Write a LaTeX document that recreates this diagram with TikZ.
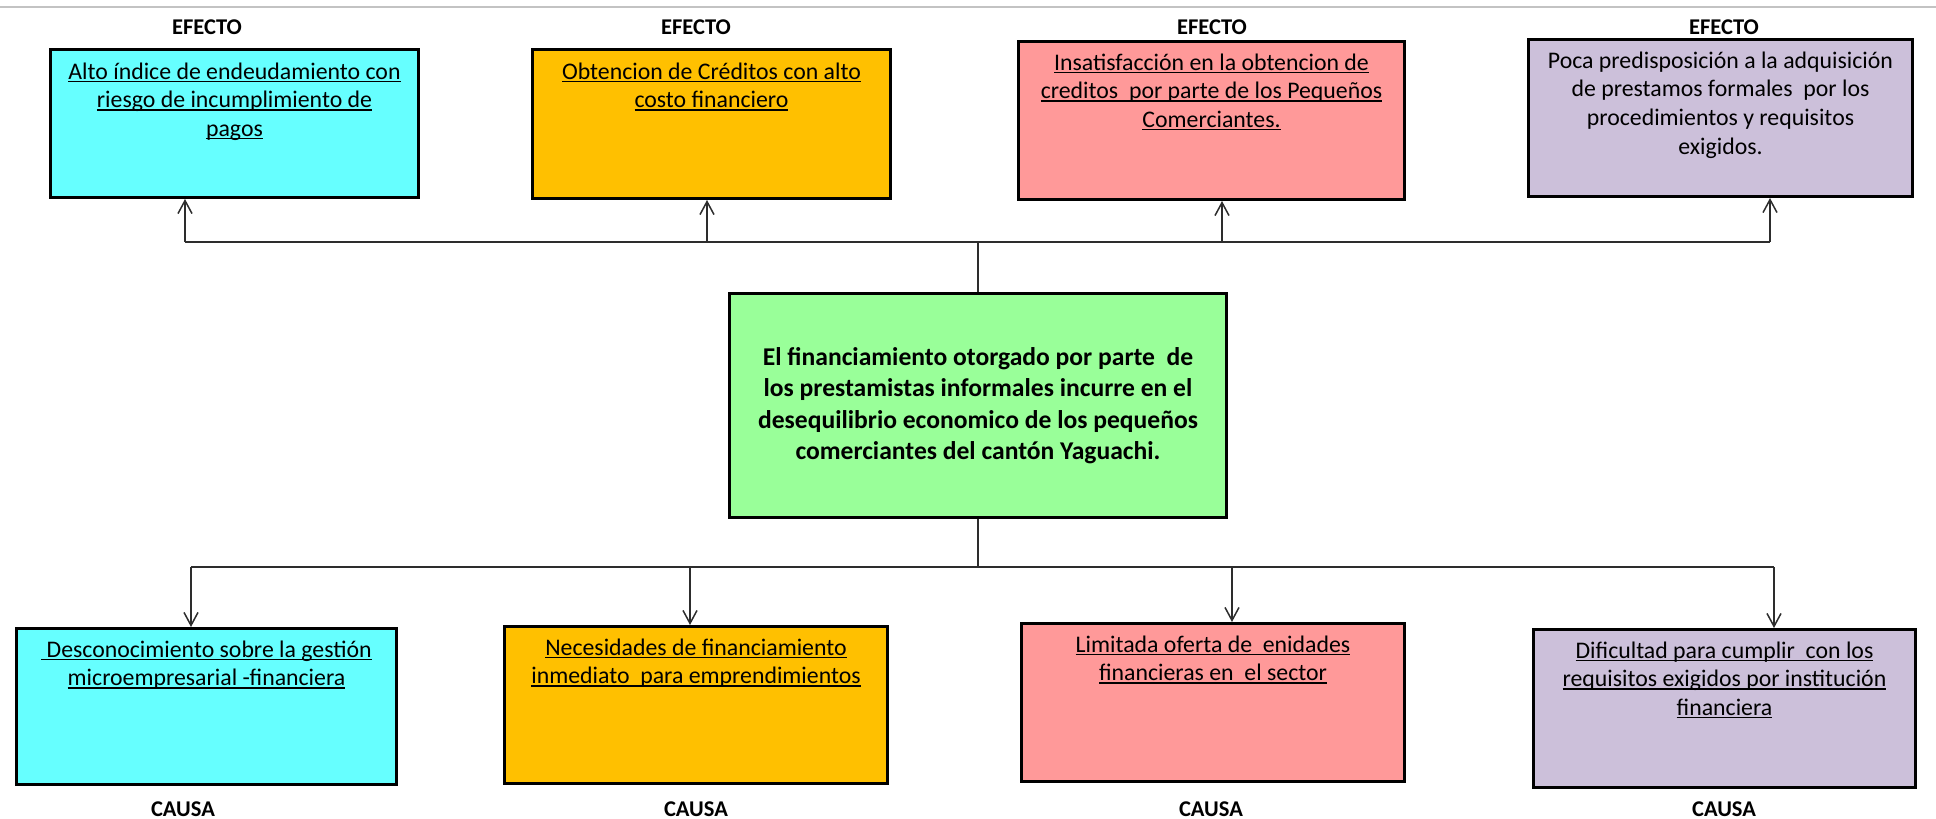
\documentclass[tikz,border=0pt]{standalone}
\usepackage{fontspec}
\setmainfont{Carlito}
\usetikzlibrary{arrows.meta,shadows}

\definecolor{cyanbox}{RGB}{102,255,255}
\definecolor{orangebox}{RGB}{255,192,0}
\definecolor{pinkbox}{RGB}{255,153,153}
\definecolor{lilacbox}{RGB}{204,192,218}
\definecolor{greenbox}{RGB}{153,255,153}
\definecolor{wire}{RGB}{45,45,45}
\definecolor{rulegray}{RGB}{195,195,195}

% underline just below the baseline, ignoring descenders
\newcommand\ulx[1]{\setbox0\hbox{#1}\rlap{\rule[-3pt]{\wd0}{1.4pt}}\box0}
% fixed-height strut so every first line starts at the same baseline
\newcommand\topstrut{\rule{0pt}{19pt}}

\tikzset{
  box/.style={draw=black, line width=3pt, anchor=north west, inner sep=0pt,
    drop shadow={shadow xshift=0.8pt, shadow yshift=-1.6pt, opacity=1, fill=black}},
  boxtext/.style={anchor=north, inner sep=0pt, align=center,
    font=\fontsize{23.8}{28.6}\selectfont},
  maintext/.style={inner sep=0pt, align=center,
    font=\bfseries\fontsize{25.6}{31.5}\selectfont},
  tag/.style={inner sep=0pt, font=\bfseries\fontsize{22.5}{26}\selectfont},
  wireline/.style={draw=wire, line width=1.5pt},
  arrowline/.style={wireline, -{Straight Barb[length=13pt,width=14pt,line width=1.5pt]}},
}

\begin{document}
\begin{tikzpicture}[x=1pt, y=-1pt]
\useasboundingbox (0,0) rectangle (1936,819);

% thin rule across the top
\draw[rulegray, line width=2pt] (0,7) -- (1936,7);

% effects (top row)
\node[box, fill=cyanbox,   minimum width=368pt, minimum height=148pt] (e1) at (49,48) {};
\node[box, fill=orangebox, minimum width=358pt, minimum height=149pt] (e2) at (531,48) {};
\node[box, fill=pinkbox,   minimum width=386pt, minimum height=158pt] (e3) at (1017,40) {};
\node[box, fill=lilacbox,  minimum width=384pt, minimum height=157pt] (e4) at (1527,38) {};

\node[boxtext] (e1t) at ([yshift=-12pt]e1.north)
  {\topstrut\ulx{Alto índice de endeudamiento con}\\\ulx{riesgo de incumplimiento de}\\\ulx{pagos}};
\node[boxtext] (e2t) at ([yshift=-12pt]e2.north)
  {\topstrut\ulx{Obtencion de Créditos con alto}\\\ulx{costo financiero}};
\node[boxtext] (e3t) at ([yshift=-11pt]e3.north)
  {\topstrut\ulx{Insatisfacción en la obtencion de}\\\ulx{creditos \ por parte de los Pequeños}\\\ulx{Comerciantes.}};
\node[boxtext] (e4t) at ([yshift=-11pt]e4.north)
  {\topstrut Poca predisposición a la adquisición\\de prestamos formales \ por los\\procedimientos y requisitos\\exigidos.};

\node[tag] (e1h) at (207,27) {EFECTO};
\node[tag] (e2h) at (696,27) {EFECTO};
\node[tag] (e3h) at (1212,27) {EFECTO};
\node[tag] (e4h) at (1724,27) {EFECTO};

% central problem
\node[box, fill=greenbox, minimum width=497pt, minimum height=224pt] (c) at (728,292) {};
\node[maintext] (ct) at (c.center)
  {El financiamiento otorgado por parte \ de\\los prestamistas informales incurre en el\\desequilibrio economico de los pequeños\\comerciantes del cantón Yaguachi.};

% causes (bottom row)
\node[box, fill=cyanbox,   minimum width=380pt, minimum height=156pt] (k1) at (15,627) {};
\node[box, fill=orangebox, minimum width=383pt, minimum height=157pt] (k2) at (503,625) {};
\node[box, fill=pinkbox,   minimum width=383pt, minimum height=158pt] (k3) at (1020,622) {};
\node[box, fill=lilacbox,  minimum width=382pt, minimum height=158pt] (k4) at (1532,628) {};

\node[boxtext] (k1t) at ([yshift=-11pt]k1.north)
  {\topstrut\ulx{\ Desconocimiento sobre la gestión}\\\ulx{microempresarial -financiera}};
\node[boxtext] (k2t) at ([yshift=-11pt]k2.north)
  {\topstrut\ulx{Necesidades de financiamiento}\\\ulx{inmediato \ para emprendimientos}};
\node[boxtext] (k3t) at ([yshift=-11pt]k3.north)
  {\topstrut\ulx{Limitada oferta de \ enidades}\\\ulx{financieras en \ el sector}};
\node[boxtext] (k4t) at ([yshift=-11pt]k4.north)
  {\topstrut\ulx{Dificultad para cumplir \ con los}\\\ulx{requisitos exigidos por institución}\\\ulx{financiera}};

\node[tag] (k1h) at (183,809) {CAUSA};
\node[tag] (k2h) at (696,809) {CAUSA};
\node[tag] (k3h) at (1211,809) {CAUSA};
\node[tag] (k4h) at (1724,809) {CAUSA};

% upper bus: problem -> effects
\coordinate (a1) at (185,242);
\coordinate (a2) at (707,242);
\coordinate (a3) at (1222,242);
\coordinate (a4) at (1770,242);
\coordinate (jt) at (c.north |- a1);
\draw[wireline] (c.north) -- (jt);
\draw[wireline] (a1) -- (a4);
\draw[arrowline] (a1) -- (a1 |- e1.south);
\draw[arrowline] (a2) -- (a2 |- e2.south);
\draw[arrowline] (a3) -- (a3 |- e3.south);
\draw[arrowline] (a4) -- (a4 |- e4.south);

% lower bus: problem -> causes
\coordinate (b1) at (191,567);
\coordinate (b2) at (690,567);
\coordinate (b3) at (1232,567);
\coordinate (b4) at (1774,567);
\coordinate (jb) at (c.south |- b1);
\draw[wireline] (c.south) -- (jb);
\draw[wireline] (b1) -- (b4);
\draw[arrowline] (b1) -- (b1 |- k1.north);
\draw[arrowline] (b2) -- (b2 |- k2.north);
\draw[arrowline] (b3) -- (b3 |- k3.north);
\draw[arrowline] (b4) -- (b4 |- k4.north);
\end{tikzpicture}
\end{document}
